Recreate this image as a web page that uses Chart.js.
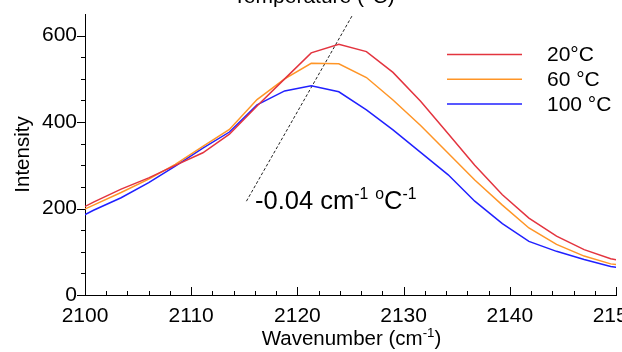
<!DOCTYPE html>
<html>
<head>
<meta charset="utf-8">
<script src="https://cdn.jsdelivr.net/npm/chart.js@4.4.0/dist/chart.umd.min.js"></script>
<style>
  html, body { margin: 0; padding: 0; background: #fff; overflow: hidden; }
  canvas { display: block; }
</style>
</head>
<body>
<canvas id="ramanChart" width="640" height="352"></canvas>
<script>
// wavenumber positions of the spectrum points (cm-1)
const wavenumber = [2098.3, 2100.8, 2103.4, 2106.0, 2108.5, 2111.1, 2113.6, 2116.2, 2118.8, 2121.3, 2123.9,
  2126.5, 2129.0, 2131.6, 2134.2, 2136.7, 2139.3, 2141.8, 2144.4, 2147.0, 2149.5, 2152.1];
const seriesNames = ['20°C', '60 °C', '100 °C'];
const intensity20 = [183, 215, 245, 271, 300, 329, 372, 437, 500, 560, 580, 563, 515, 448, 373, 300, 232, 178, 136, 105, 84, 72];
const intensity60 = [180, 208, 237, 268, 302, 344, 383, 452, 500, 536, 535, 503, 451, 392, 328, 266, 208, 155, 117, 90, 72, 64];
const intensity100 = [165, 196, 225, 260, 298, 340, 377, 440, 472, 484, 470, 428, 382, 330, 278, 217, 165, 124, 101, 82, 66, 57];
const seriesColors = ['#e3343f', '#ff9526', '#2020ff'];

// dotted guide line for the peak shift
const slopeX = [2115.2, 2125.2];
const slopeY = [217, 648];

// axis ticks
const xTicks = [2100, 2110, 2120, 2130, 2140, 2150];
const xMinorStep = 2;
const yTicks = [0, 200, 400, 600];
const yMinorStep = 50;

const FONT = "'Liberation Sans', Arial, sans-serif";

function toPoints(xs, ys){
  return xs.map((x, i) => ({x: x, y: ys[i]}));
}

// draw text with superscript parts: parts = [[text, isSup], ...]
function drawRich(ctx, parts, x, y, size, align, supRatio){
  const supSize = size * supRatio;
  let total = 0;
  parts.forEach(p => {
    ctx.font = (p[1] ? supSize : size) + 'px ' + FONT;
    total += ctx.measureText(p[0]).width;
  });
  let cx = align === 'center' ? x - total / 2 : x;
  ctx.textAlign = 'left';
  ctx.textBaseline = 'alphabetic';
  parts.forEach(p => {
    ctx.font = (p[1] ? supSize : size) + 'px ' + FONT;
    ctx.fillText(p[0], cx, p[1] ? y - size * 0.4 : y);
    cx += ctx.measureText(p[0]).width;
  });
}

function noPadding(scale){
  scale.paddingTop = 0;
  scale.paddingBottom = 0;
  scale.paddingLeft = 0;
  scale.paddingRight = 0;
}

const overlay = {
  id: 'overlay',
  afterDraw(chart){
    const ctx = chart.ctx;
    const a = chart.chartArea;
    const x = chart.scales.x;
    const y = chart.scales.y;
    ctx.save();
    ctx.strokeStyle = '#000';
    ctx.fillStyle = '#000';
    ctx.lineWidth = 1;

    // y ticks (outward), major and minor
    for(let v = y.min; v <= 600; v += yMinorStep){
      const py = Math.round(y.getPixelForValue(v)) + 0.5;
      const len = yTicks.includes(v) ? 8 : 4;
      ctx.beginPath();
      ctx.moveTo(a.left - len, py);
      ctx.lineTo(a.left, py);
      ctx.stroke();
    }
    // x ticks (inward), major and minor
    for(let v = x.min; v <= x.max; v += xMinorStep){
      const px = Math.round(x.getPixelForValue(v)) + 0.5;
      const len = xTicks.includes(v) ? 8 : 4;
      ctx.beginPath();
      ctx.moveTo(px, a.bottom);
      ctx.lineTo(px, a.bottom - len);
      ctx.stroke();
    }

    // axis titles
    drawRich(ctx, [['Wavenumber (cm', false], ['-1', true], [')', false]], (a.left + a.right) / 2 + 1, 345, 20.5, 'center', 0.65);
    ctx.save();
    ctx.translate(29, (a.top + a.bottom) / 2);
    ctx.rotate(-Math.PI / 2);
    ctx.font = '20.5px ' + FONT;
    ctx.textAlign = 'center';
    ctx.textBaseline = 'alphabetic';
    ctx.fillText('Intensity', 0, 0);
    ctx.restore();

    // title at top (partly outside the picture)
    ctx.font = '21px ' + FONT;
    ctx.textAlign = 'center';
    ctx.textBaseline = 'alphabetic';
    ctx.fillText('Temperature (°C)', 314, 3);

    // slope annotation
    drawRich(ctx, [['-0.04 cm', false], ['-1', true], [' ', false], ['o', true], ['C', false], ['-1', true]], 255, 209, 25.5, 'left', 0.62);

    // legend
    seriesNames.forEach((name, i) => {
      const ly = 54.5 + i * 24.7;
      ctx.strokeStyle = seriesColors[i];
      ctx.lineWidth = 1.5;
      ctx.beginPath();
      ctx.moveTo(447, ly);
      ctx.lineTo(522, ly);
      ctx.stroke();
      ctx.font = '21px ' + FONT;
      ctx.textAlign = 'left';
      ctx.textBaseline = 'middle';
      ctx.fillText(name, 547, ly + 1);
    });
    ctx.restore();
  }
};

const allSeries = [intensity20, intensity60, intensity100];
const datasets = allSeries.map((vals, i) => ({
  label: seriesNames[i],
  data: toPoints(wavenumber, vals),
  borderColor: seriesColors[i],
  borderWidth: 1.5,
  pointRadius: 0,
  tension: 0,
  fill: false
}));
datasets.push({
  label: 'slope',
  data: toPoints(slopeX, slopeY),
  borderColor: '#222',
  borderWidth: 1,
  borderDash: [3, 2],
  pointRadius: 0,
  fill: false,
  clip: false
});

const ctx = document.getElementById('ramanChart').getContext('2d');
new Chart(ctx, {
  type: 'line',
  data: { datasets: datasets },
  options: {
    responsive: false,
    animation: false,
    devicePixelRatio: 1,
    layout: { padding: { left: 0, right: 24, top: 14, bottom: 0 } },
    plugins: {
      legend: { display: false },
      tooltip: { enabled: false },
      title: { display: false }
    },
    scales: {
      x: {
        type: 'linear',
        min: 2100,
        max: 2150,
        afterFit: (scale) => { scale.height = 57; noPadding(scale); },
        grid: { display: false, drawTicks: false },
        border: { display: true, color: '#000', width: 1 },
        ticks: {
          stepSize: 10,
          includeBounds: false,
          padding: 9,
          color: '#000',
          font: { family: FONT, size: 21 },
          maxRotation: 0,
          autoSkip: false,
          callback: (v) => v
        }
      },
      y: {
        type: 'linear',
        min: 0,
        max: 650,
        afterFit: (scale) => { scale.width = 85; noPadding(scale); },
        grid: { display: false, drawTicks: false },
        border: { display: true, color: '#000', width: 1 },
        ticks: {
          stepSize: 200,
          includeBounds: false,
          padding: 8,
          color: '#000',
          font: { family: FONT, size: 21 }
        }
      }
    }
  },
  plugins: [overlay]
});
</script>
</body>
</html>
